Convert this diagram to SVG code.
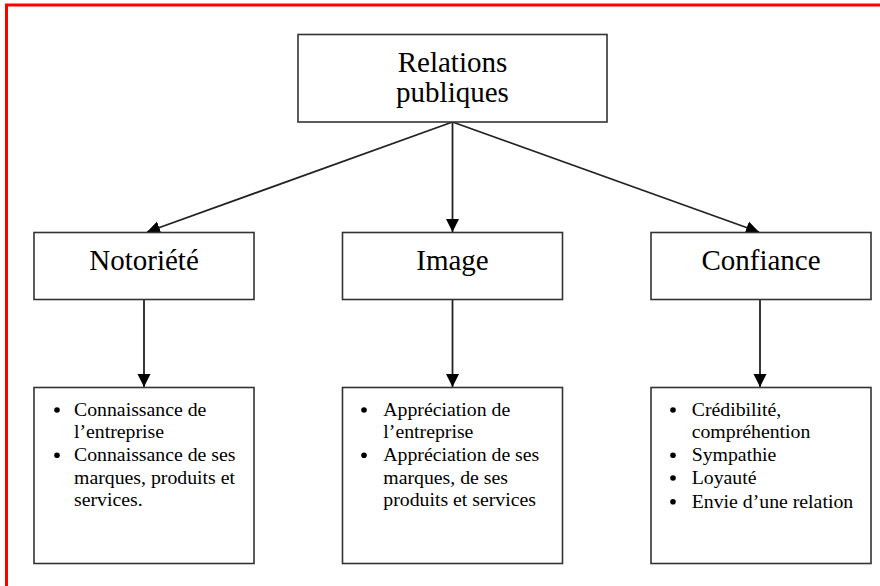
<svg xmlns="http://www.w3.org/2000/svg" width="880" height="586" viewBox="0 0 880 586">
<defs>
<marker id="ah" markerUnits="userSpaceOnUse" markerWidth="14" markerHeight="14" refX="13" refY="7" orient="auto">
<path d="M0,0.5 L13,7 L0,13.5 z" fill="#000"/>
</marker>
<style>
.box{fill:#fff;stroke:#333;stroke-width:1.6}
.t{font-family:"Liberation Serif","Times New Roman",serif;fill:#000}
.big{font-size:29px;text-anchor:middle}
.sm{font-size:19.8px}
.b{fill:#000}
.c{stroke:#222;stroke-width:1.8;fill:none;marker-end:url(#ah)}
</style>
</defs>
<rect width="880" height="586" fill="#fff"/>
<path d="M6.5,586 V5 H880" fill="none" stroke="#f00" stroke-width="3"/>
<g id="connectors">
<line class="c" x1="452.5" y1="122" x2="147" y2="232"/>
<line class="c" x1="452.5" y1="122" x2="452.5" y2="232"/>
<line class="c" x1="452.5" y1="122" x2="759" y2="232"/>
<line class="c" x1="144" y1="299" x2="144" y2="387"/>
<line class="c" x1="452.5" y1="299" x2="452.5" y2="387"/>
<line class="c" x1="760" y1="299" x2="760" y2="387"/>
</g>
<g id="relations">
<rect class="box" x="298" y="34.5" width="309" height="87.5"/>
<text class="t big" x="452.5" y="71.5">Relations</text>
<text class="t big" x="452.5" y="101.5">publiques</text>
</g>
<g id="notoriete">
<rect class="box" x="34" y="232.5" width="220" height="67"/>
<text class="t big" x="144" y="269.5">Notoriété</text>
</g>
<g id="image">
<rect class="box" x="342.5" y="232.5" width="220" height="67"/>
<text class="t big" x="452.5" y="269.5">Image</text>
</g>
<g id="confiance">
<rect class="box" x="651" y="232.5" width="220" height="67"/>
<text class="t big" x="761" y="269.5">Confiance</text>
</g>
<g id="notoriete-details">
<rect class="box" x="34" y="387.5" width="220" height="176"/>
<circle class="b" cx="57" cy="410" r="2.8"/>
<text class="t sm" x="74" y="415.7">Connaissance de</text>
<text class="t sm" x="74" y="438.4">l’entreprise</text>
<circle class="b" cx="57" cy="455.3" r="2.8"/>
<text class="t sm" x="74" y="461">Connaissance de ses</text>
<text class="t sm" x="74" y="483.7">marques, produits et</text>
<text class="t sm" x="74" y="506.4">services.</text>
</g>
<g id="image-details">
<rect class="box" x="342.5" y="387.5" width="220" height="176"/>
<circle class="b" cx="364" cy="410" r="2.8"/>
<text class="t sm" x="383.3" y="415.7">Appréciation de</text>
<text class="t sm" x="383.3" y="438.4">l’entreprise</text>
<circle class="b" cx="364" cy="455.3" r="2.8"/>
<text class="t sm" x="383.3" y="461">Appréciation de ses</text>
<text class="t sm" x="383.3" y="483.7">marques, de ses</text>
<text class="t sm" x="383.3" y="506.4">produits et services</text>
</g>
<g id="confiance-details">
<rect class="box" x="651" y="387.5" width="220" height="176"/>
<circle class="b" cx="673" cy="410" r="2.8"/>
<text class="t sm" x="691.7" y="415.7">Crédibilité,</text>
<text class="t sm" x="691.7" y="438.4">compréhention</text>
<circle class="b" cx="673" cy="455.3" r="2.8"/>
<text class="t sm" x="691.7" y="461">Sympathie</text>
<circle class="b" cx="673" cy="478" r="2.8"/>
<text class="t sm" x="691.7" y="483.7">Loyauté</text>
<circle class="b" cx="673" cy="501.8" r="2.8"/>
<text class="t sm" x="691.7" y="507.5">Envie d’une relation</text>
</g>
</svg>
